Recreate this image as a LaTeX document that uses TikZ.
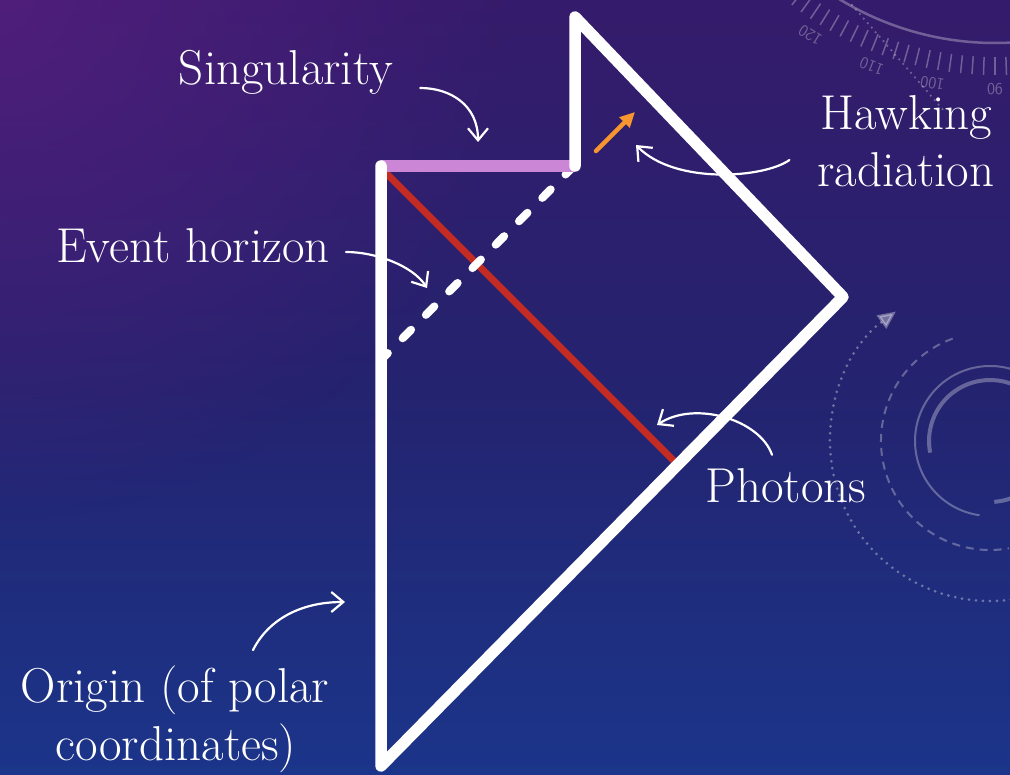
\documentclass[tikz,border=0pt]{standalone}
\usetikzlibrary{arrows.meta,calc,fadings}
\definecolor{bgtop}{HTML}{351B6B}
\definecolor{bgmid}{HTML}{24236F}
\definecolor{bgbot}{HTML}{1B358A}
\definecolor{bgglow}{HTML}{5A2082}
\definecolor{singcol}{HTML}{CB86D6}
\definecolor{photcol}{HTML}{C42B22}
\definecolor{hawkcol}{HTML}{F7962F}
\tikzfading[name=glowfade, inner color=transparent!0, outer color=transparent!100]
\begin{document}
\begin{tikzpicture}[x=1pt,y=-1pt,
  lbl/.style={text=white,font=\fontsize{49}{58}\selectfont,inner sep=0pt,anchor=base},
  frame/.style={draw=white,line width=11.5pt,line cap=round,line join=round},
  callout/.style={draw=white,line width=2.2pt,line cap=round,-{Straight Barb[length=12pt,width=20pt]}},
  deco/.style={draw=white,opacity=0.3,line width=2pt},
  dialnum/.style={text=white,text opacity=0.3,font=\sffamily\fontsize{17}{17}\selectfont,inner sep=0pt}]

% background
\useasboundingbox (0,0) rectangle (1010,775);
\shade[top color=bgtop,bottom color=bgbot,middle color=bgmid] (0,0) rectangle (1010,775);
\fill[bgglow,path fading=glowfade,fill opacity=0.7] (0,0) circle (520);

% dial (top right)
\coordinate (dc) at (995,-255);
\draw[deco,line width=2.5pt] ($(dc)+(78:298)$) arc[start angle=78,end angle=126,radius=298];
\foreach \a in {84,86,...,140} \draw[deco,line width=1.5pt] ($(dc)+(\a:312)$) -- ($(dc)+(\a:330)$);
\foreach \v/\a in {90/90,100/100.5,110/111,120/122.5}
  \node[dialnum,rotate=270-\a] (n\v) at ($(dc)+(\a:344)$) {\v};
\draw[deco,line width=2.5pt,line cap=round,dash pattern=on 0pt off 6pt] (852,5) -- (945,112);

% circles (right)
\coordinate (rc) at (990,441);
\draw[deco] ($(rc)+(-60:75)$) arc[start angle=-60,end angle=-262,radius=75];
\draw[deco,line width=4pt] ($(rc)+(-60:61)$) arc[start angle=-60,end angle=-191,radius=61];
\draw[deco,line width=4pt] ($(rc)+(86:61)$) arc[start angle=86,end angle=50,radius=61];
\draw[deco,dash pattern=on 8pt off 6pt] ($(rc)+(-110:109)$) arc[start angle=-110,end angle=-280,radius=109];
\draw[deco,opacity=0.35,line width=3pt,line cap=round,dash pattern=on 0pt off 7pt,-{Triangle[length=18pt,width=16pt]}] ($(rc)+(80:160)$) arc[start angle=80,end angle=234,radius=160];

% Penrose diagram
\coordinate (SL) at (381,166);
\coordinate (SR) at (575,166);
\coordinate (B) at (381,766);
\coordinate (R) at (843,297);
\coordinate (T) at (575,17);
\coordinate (phA) at (381,168);
\coordinate (phB) at (677,464);
\coordinate (ehA) at (574,166);
\coordinate (ehB) at (384,357);
\coordinate (hrA) at (596,151);
\coordinate (hrB) at (635,112);

\draw[photcol,line width=7pt] (phA) -- (phB);
\draw[white,line width=8pt,line cap=round,dash pattern=on 12pt off 21pt] (ehA) -- (ehB);
\draw[singcol,line width=12pt] (SL) -- (SR);
\draw[frame] (SL) -- (B) -- (R) -- (T) -- (SR);
\draw[hawkcol,line width=4.5pt,line cap=round,-{Triangle[length=15pt,width=14pt]}] (hrA) -- (hrB);

% labels
\node[lbl] (singl) at (286,85) {Singularity};
\node[lbl] (evh) at (193,263) {Event horizon};
\node[lbl] (hawk1) at (906,130) {Hawking};
\node[lbl] (hawk2) at (906,187) {radiation};
\node[lbl] (phot) at (786,503) {Photons};
\node[lbl] (orig1) at (175,702) {Origin (of polar};
\node[lbl] (orig2) at (176,760) {coordinates)};

% callout targets
\coordinate (singT) at (478,142);
\coordinate (ehT) at (427,288);
\coordinate (hrT) at (636,145);
\coordinate (phT) at (657,425);
\coordinate (orT) at (345,602);

\draw[callout] ($(singl.base east)+(27,3)$) .. controls +(30,0) and +(0,-37) .. (singT);
\draw[callout] ($(evh.base east)+(16,-11)$) .. controls +(30,0) and +(-14,-22) .. (ehT);
\draw[callout] ($(hawk2.base west)+(-28,-27)$) .. controls +(-25,18) and +(39,40) .. (hrT);
\draw[callout] ($(phot.north)+(-14,-14)$) .. controls +(-12,-35) and +(38,-25) .. (phT);
\draw[callout] ($(orig1.north)+(78,-15)$) .. controls +(15,-30) and +(-45,0) .. (orT);
\end{tikzpicture}
\end{document}
